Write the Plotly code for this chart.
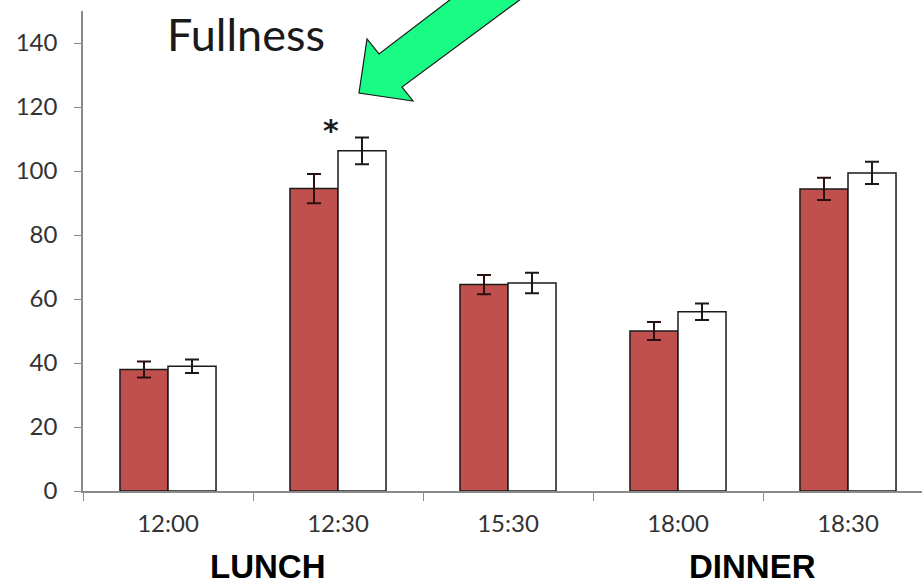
import plotly.graph_objects as go

# Fullness ratings at each time point, two conditions
times = ["12:00", "12:30", "15:30", "18:00", "18:30"]
cond_a = [38, 94.5, 64.5, 50, 94.4]        # filled bars
cond_a_err = [2.5, 4.6, 3.0, 2.8, 3.5]
cond_b = [39, 106.3, 65, 56, 99.4]         # open bars
cond_b_err = [2.1, 4.2, 3.2, 2.6, 3.5]

W, H = 922, 584
L, R, T, B = 83, 0, 11, 93
pw, ph = W - L - R, H - T - B


def px(x, y):
    """Pixel position -> paper coordinates."""
    return (x - L) / pw, (H - B - y) / ph


fig = go.Figure()
fig.add_trace(go.Bar(
    x=times, y=cond_a, name="A",
    marker=dict(color="#C0504D", line=dict(color="#1a1a1a", width=1.5)),
    error_y=dict(type="data", array=cond_a_err, visible=True,
                 color="#2a1010", thickness=2, width=7),
))
fig.add_trace(go.Bar(
    x=times, y=cond_b, name="B",
    marker=dict(color="#ffffff", line=dict(color="#1a1a1a", width=1.5)),
    error_y=dict(type="data", array=cond_b_err, visible=True,
                 color="#1a1a1a", thickness=2, width=7),
))

tick_font = dict(family="Lato, Open Sans, sans-serif", size=24, color="#333333")

fig.update_layout(
    width=W, height=H,
    margin=dict(l=L, r=R, t=T, b=B),
    paper_bgcolor="white", plot_bgcolor="white",
    showlegend=False,
    barmode="group", bargap=0.435, bargroupgap=0,
    xaxis=dict(
        range=[-0.5, (W - L) / 170 - 0.5],
        showline=True, linecolor="#8a8a8a", linewidth=1.5,
        ticks="outside", tickson="boundaries", ticklen=8, tickcolor="#8a8a8a",
        tickfont=tick_font, showgrid=False, zeroline=False,
        ticklabelstandoff=10,
    ),
    yaxis=dict(
        range=[0, 150], tickvals=[0, 20, 40, 60, 80, 100, 120, 140],
        showline=True, linecolor="#8a8a8a", linewidth=1.5,
        ticks="outside", ticklen=7, tickcolor="#8a8a8a",
        tickfont=tick_font, showgrid=False, zeroline=False,
        ticklabelstandoff=12,
    ),
)

# Title inside the plot area
tx, ty = px(246, 34)
fig.add_annotation(x=tx, y=ty, xref="paper", yref="paper", text="Fullness",
                   showarrow=False, xanchor="center", yanchor="middle",
                   font=dict(family="Lato, Open Sans, sans-serif", size=45, color="#1a1a1a"))

# Significance marker over the 12:30 pair
sx, sy = px(331, 130)
fig.add_annotation(x=sx, y=sy, xref="paper", yref="paper", text="<b>*</b>",
                   showarrow=False, xanchor="center", yanchor="middle",
                   font=dict(family="DejaVu Sans, sans-serif", size=30, color="#1a1a1a"))

# Meal labels under the axis
for label, cx in [("LUNCH", 267), ("DINNER", 752)]:
    lx, ly = px(cx, 566)
    fig.add_annotation(x=lx, y=ly, xref="paper", yref="paper", text=f"<b>{label}</b>",
                       showarrow=False, xanchor="center", yanchor="middle",
                       font=dict(family="Liberation Sans, Arial, sans-serif", size=33, color="#000000"))

# Green block arrow pointing at the 12:30 pair
arrow_pts = [(455, -4), (379, 54), (367, 39), (359, 93), (413, 101), (402, 87), (525, -4)]
path = "M " + " L ".join("{:.5f},{:.5f}".format(*px(x, y)) for x, y in arrow_pts) + " Z"
fig.add_shape(type="path", path=path, xref="paper", yref="paper",
              fillcolor="#19FB85", line=dict(color="#1a1a1a", width=1.2), layer="above")

fig.write_html("out.html")
